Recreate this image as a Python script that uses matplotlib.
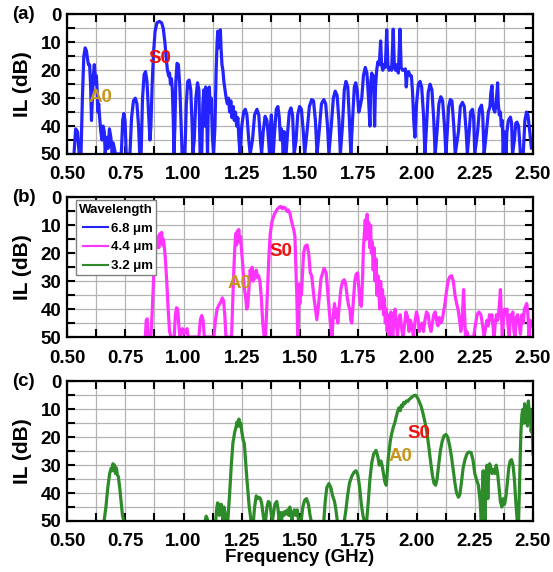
import matplotlib
matplotlib.use("Agg")
import matplotlib.pyplot as plt
from matplotlib.lines import Line2D
from matplotlib.ticker import MultipleLocator, FormatStrFormatter

plt.rcParams['font.family'] = ['Liberation Sans', 'DejaVu Sans']
plt.rcParams['font.weight'] = 'bold'
plt.rcParams['axes.labelweight'] = 'bold'

## Panel (a): wavelength 6.8 um
xa = [0.530, 0.537, 0.545, 0.552, 0.560, 0.566, 0.572, 0.578, 0.583, 0.588, 0.592, 0.597, 0.601, 0.605,
      0.609, 0.613, 0.617, 0.620, 0.623, 0.626, 0.629, 0.632, 0.636, 0.640, 0.645, 0.650, 0.655, 0.660,
      0.664, 0.670, 0.676, 0.682, 0.688, 0.694, 0.698, 0.703, 0.708, 0.714,
      0.733, 0.739, 0.744, 0.749, 0.754,
      0.770, 0.777, 0.785, 0.793, 0.800, 0.807, 0.812,
      0.818, 0.824, 0.831, 0.837, 0.843, 0.850, 0.856, 0.860, 0.865, 0.871, 0.878, 0.886, 0.896, 0.906,
      0.913, 0.920, 0.926, 0.931, 0.936, 0.940, 0.944, 0.948, 0.952, 0.956, 0.959,
      0.963, 0.967, 0.972, 0.978, 0.984, 0.990, 0.994,
      1.006, 1.012, 1.018, 1.024, 1.031, 1.037, 1.040,
      1.046, 1.053, 1.060, 1.066, 1.071,
      1.078, 1.083, 1.087, 1.091, 1.095, 1.099, 1.103, 1.107, 1.111, 1.115, 1.119, 1.124, 1.129,
      1.135, 1.140, 1.144, 1.147, 1.150, 1.154, 1.158, 1.161, 1.165, 1.169, 1.173, 1.178, 1.183, 1.188,
      1.193, 1.198, 1.203, 1.208, 1.213, 1.218, 1.223, 1.228, 1.233, 1.238, 1.243,
      1.250, 1.258, 1.265, 1.272, 1.280, 1.286,
      1.296, 1.305, 1.315, 1.323, 1.330, 1.335,
      1.342, 1.350, 1.358, 1.365, 1.369, 1.373, 1.377, 1.381, 1.385, 1.391, 1.398, 1.405, 1.411, 1.416,
      1.420, 1.424, 1.428, 1.432, 1.436, 1.440,
      1.447, 1.454, 1.461, 1.468, 1.475,
      1.483, 1.490, 1.498, 1.506, 1.514, 1.520,
      1.530, 1.540, 1.550, 1.558, 1.566, 1.573,
      1.582, 1.592, 1.602, 1.610, 1.618, 1.624,
      1.634, 1.643, 1.651, 1.659, 1.667, 1.673,
      1.682, 1.690, 1.697, 1.705, 1.712, 1.718,
      1.724, 1.733, 1.739, 1.745, 1.752, 1.758,
      1.765, 1.772, 1.780, 1.787, 1.794, 1.800, 1.804, 1.808, 1.812, 1.816, 1.820, 1.824, 1.829, 1.834,
      1.840, 1.846, 1.850, 1.855, 1.860, 1.866, 1.872, 1.877, 1.882, 1.887, 1.893, 1.900, 1.905, 1.910,
      1.916, 1.922, 1.929, 1.934, 1.940, 1.946, 1.952, 1.956, 1.960, 1.966, 1.972, 1.978, 1.983, 1.988,
      1.993, 2.000, 2.008, 2.015, 2.022, 2.030, 2.036,
      2.043, 2.050, 2.058, 2.066, 2.074, 2.080,
      2.088, 2.096, 2.104, 2.112, 2.120, 2.126,
      2.132, 2.138, 2.145, 2.152, 2.160, 2.166,
      2.180, 2.188, 2.197, 2.205, 2.213, 2.218,
      2.226, 2.232, 2.240, 2.245, 2.250,
      2.262, 2.270, 2.279, 2.284, 2.290,
      2.300, 2.308, 2.315, 2.319, 2.324, 2.327, 2.331, 2.336, 2.340, 2.345, 2.348, 2.351, 2.355, 2.360,
      2.364, 2.368, 2.372, 2.376, 2.380, 2.384, 2.388, 2.394, 2.403, 2.408, 2.412,
      2.420, 2.426, 2.431, 2.438, 2.446,
      2.458, 2.465, 2.472, 2.478, 2.486, 2.493, 2.500]
ya = [50, 41, 42, 50, 50, 30, 15, 12, 13, 16, 18, 18, 25, 38,
      30, 22, 18, 21, 25, 22, 27, 35, 32, 37, 42, 45, 40, 42,
      50, 44, 48, 41, 44, 50, 46, 48, 50, 50,
      50, 38, 35.5, 38, 50,
      50, 37, 31, 30, 32, 40, 50,
      50, 30, 21.5, 20.5, 24, 35, 45, 40, 26, 14, 6, 3, 2.5, 3,
      5, 10, 16, 20, 22, 21, 25, 23, 27, 38, 50,
      40, 24, 17.5, 18, 26, 40, 50,
      50, 32, 24, 23.5, 27, 40, 50,
      45, 30, 24.5, 27, 50,
      50, 32, 27, 40, 26, 34, 50, 30, 26, 35, 30, 44, 50,
      40, 20, 10, 6, 12, 9, 5.5, 12, 18, 20, 24, 27, 30, 32,
      30, 35, 31, 37, 33, 38, 35, 40, 37, 45, 50,
      40, 35, 34, 36, 45, 50,
      45, 36, 34, 36, 45, 50,
      42, 36.5, 38, 45, 50, 40, 36, 42, 50, 42, 34, 33, 37, 45,
      41, 44, 50, 42, 46, 50,
      42, 35, 33.5, 36, 50,
      45, 36, 33, 34, 42, 50,
      42, 33, 30.5, 31, 38, 50,
      42, 32, 30.5, 32, 40, 50,
      40, 30, 27.5, 29, 38, 50,
      40, 27, 24, 26, 38, 50,
      40, 26, 24.5, 27, 35, 33,
      30, 22, 19, 21, 30, 40, 24, 21, 27, 22, 40, 26, 20, 17,
      18, 9.5, 18, 20, 18, 19, 5.5, 18, 20, 19, 20, 5.3, 19, 20,
      18, 21, 5.3, 19, 20, 20, 19.5, 26, 21, 20.5, 22, 22, 28, 38,
      44, 32, 25, 24, 26, 36, 50,
      40, 28, 25, 27, 38, 50,
      42, 32, 29.5, 31, 40, 50,
      42, 33, 30.5, 31, 40, 50,
      42, 33, 31.5, 33, 42, 50,
      42, 35, 34, 37, 50,
      42, 34, 32.5, 36, 50,
      42, 35, 33, 28, 25.5, 32, 34, 35, 33, 28, 24.5, 32, 36, 35,
      40, 38, 50, 42, 45, 50, 42, 38, 36.8, 39, 50,
      45, 39, 38.6, 40, 50,
      50, 38, 35, 36, 42, 48, 45]

## Panel (b): wavelength 4.4 um
xb = [0.836, 0.840, 0.844, 0.848, 0.860, 0.866, 0.872, 0.878, 0.884, 0.890, 0.894, 0.898, 0.902, 0.906,
      0.910, 0.914, 0.918, 0.922, 0.928, 0.934, 0.940, 0.946,
      0.960, 0.965, 0.970, 0.975, 0.980, 0.984,
      0.990, 0.995, 1.000, 1.005, 1.010, 1.015, 1.020,
      1.066, 1.072, 1.078, 1.084, 1.089,
      1.130, 1.137, 1.144, 1.152, 1.160, 1.166, 1.172, 1.177, 1.182,
      1.206, 1.210, 1.215, 1.220, 1.224, 1.228, 1.231, 1.234, 1.237, 1.241, 1.245, 1.249, 1.254, 1.260,
      1.266, 1.271, 1.276, 1.281, 1.286, 1.290, 1.294, 1.298, 1.302, 1.307, 1.312, 1.317, 1.322, 1.328,
      1.334, 1.340, 1.346, 1.352, 1.357, 1.362, 1.367, 1.372, 1.380, 1.390, 1.400, 1.410, 1.418, 1.424,
      1.430, 1.437, 1.444, 1.450, 1.456, 1.462, 1.468, 1.474, 1.478, 1.482, 1.486, 1.490, 1.493, 1.496,
      1.499, 1.502, 1.506, 1.510, 1.515, 1.522, 1.530, 1.537, 1.544, 1.550, 1.560, 1.572,
      1.580, 1.590, 1.603, 1.612, 1.620, 1.629, 1.637,
      1.643, 1.648, 1.652, 1.657, 1.662, 1.667, 1.675, 1.683, 1.690, 1.696, 1.703, 1.709, 1.714, 1.718,
      1.722, 1.728, 1.735, 1.741, 1.747, 1.752, 1.758, 1.763,
      1.768, 1.772, 1.776, 1.780, 1.784, 1.788, 1.791, 1.795, 1.799, 1.803, 1.806, 1.810, 1.814, 1.818,
      1.822, 1.826, 1.830, 1.834, 1.838, 1.842, 1.846, 1.850, 1.854, 1.858, 1.862, 1.866, 1.870, 1.874,
      1.878, 1.882, 1.886, 1.890, 1.894, 1.898, 1.902, 1.908, 1.914, 1.918, 1.924, 1.930, 1.936, 1.942,
      1.948, 1.955, 1.962, 1.968, 1.974, 1.980, 1.987, 1.994, 2.000, 2.006, 2.012, 2.018, 2.024, 2.030,
      2.036, 2.043, 2.050, 2.056, 2.062, 2.068, 2.074, 2.080, 2.086, 2.092, 2.098, 2.104, 2.110, 2.116,
      2.122, 2.128, 2.135, 2.142, 2.150, 2.158, 2.165, 2.172, 2.178, 2.185, 2.190, 2.194, 2.198, 2.202,
      2.206, 2.210, 2.216, 2.222, 2.232,
      2.245, 2.252, 2.260, 2.268, 2.276, 2.284, 2.290, 2.296, 2.302, 2.308, 2.313, 2.318, 2.323, 2.328,
      2.333, 2.338, 2.343, 2.348, 2.352, 2.356, 2.360, 2.364, 2.368, 2.373, 2.378, 2.383, 2.388, 2.393,
      2.398, 2.403, 2.408, 2.413, 2.418, 2.423, 2.428, 2.434, 2.440, 2.446, 2.452, 2.458, 2.463, 2.468,
      2.473, 2.478, 2.483, 2.488, 2.494, 2.500]
yb = [50, 44, 43.5, 50, 50, 40, 28, 20, 17, 14, 18, 13, 16, 12.5,
      17, 15, 18, 22, 30, 40, 48, 50,
      50, 42, 39.5, 40, 46, 50,
      48, 47, 49, 47.5, 48.5, 47, 50,
      50, 44, 42.3, 44, 50,
      50, 44, 40, 38.5, 37.5, 36, 37, 42, 50,
      50, 40, 28, 18, 13, 17, 12, 15, 11.5, 16, 14, 19, 24, 32,
      35, 40, 38.5, 32, 26, 28, 25, 30, 27, 29, 26, 28.5, 28, 30,
      36, 45, 50, 50, 40, 30, 20, 13, 8.5, 6, 4.5, 3.5, 3.2, 4,
      3.5, 3.8, 5, 4.5, 5.5, 8, 10, 12, 14, 25, 35, 50, 45, 31,
      38, 32, 35, 28, 20, 17.5, 17, 20, 27, 28, 36, 43.8,
      38, 29, 25.4, 27, 35, 44, 50,
      42, 38, 43, 40, 45, 40, 33, 30, 29.5, 31, 36, 39, 40, 44,
      45, 38, 30, 27.5, 27, 32, 38, 39,
      30, 18, 13, 8, 15, 6, 12, 9, 18, 10, 20, 16, 26, 18,
      30, 22, 35, 28, 33, 40, 30, 38, 33, 42, 36, 45, 40, 48,
      42, 50, 44, 41, 46, 50, 45, 40, 45, 50, 44, 42, 47, 50,
      46, 41, 43, 48, 44, 46, 50, 44, 41, 43, 48, 46, 45, 48,
      44, 41, 42, 46, 48, 45, 42, 41, 44, 46, 43, 45, 44, 41,
      38, 34, 30, 28.5, 28, 30, 35, 38, 40, 44, 48, 46, 40, 33,
      42, 50, 48, 50, 50,
      50, 46, 42, 41, 42, 46, 50, 47, 44, 46, 42, 44, 42, 46,
      50, 45, 42, 44, 42, 38, 33, 42, 50, 44, 40, 42, 40, 46,
      50, 42, 44, 41, 48, 50, 43, 42, 45, 49, 42, 45, 40, 39,
      38, 42, 50, 44, 46, 45]

## Panel (c): wavelength 3.2 um (None marks a gap in the trace)
xc = [0.659, 0.667, 0.675, 0.683, 0.690, 0.694, 0.697, 0.700, 0.704, 0.708, 0.712, 0.716, 0.720, 0.726,
      0.732, 0.738, 0.744, None,
      1.093, 1.097, 1.101, 1.104, None,
      1.138, 1.142, 1.146, 1.150, 1.154, 1.158, 1.162, 1.166, 1.170, 1.174, 1.178, 1.182,
      1.190, 1.198, 1.205, 1.212, 1.220, 1.225, 1.230, 1.234, 1.238, 1.242, 1.246, 1.250, 1.256, 1.261,
      1.272, 1.282, 1.290,
      1.300, 1.305, 1.312, 1.318, 1.324, 1.330, 1.336, 1.342, 1.346,
      1.352, 1.358, 1.364, 1.370, 1.376, 1.381,
      1.385, 1.392, 1.400, 1.406, 1.410, 1.416, 1.420, 1.426, 1.431, 1.436, 1.441, 1.447, 1.452, 1.456,
      1.460, 1.466, 1.470, 1.476, 1.482, 1.488, 1.494,
      1.505, 1.512, 1.520, 1.528, 1.536, 1.543, 1.548, None,
      1.602, 1.608, 1.615, 1.624, 1.632, 1.640, 1.648, 1.654, 1.660, None,
      1.690, 1.697, 1.704, 1.712, 1.722, 1.732, 1.740, 1.748, 1.756, 1.763, 1.770, 1.776,
      1.786, 1.792, 1.800, 1.808, 1.816, 1.826, 1.834, 1.840, 1.847, 1.852, 1.858, 1.864, 1.870, 1.874,
      1.878, 1.882, 1.888, 1.894, 1.900, 1.906, 1.912, 1.918, 1.924, 1.930, 1.935, 1.940, 1.945, 1.950,
      1.956, 1.962, 1.968, 1.975, 1.982, 1.990, 1.997, 2.005, 2.013, 2.020, 2.028, 2.036, 2.044, 2.052,
      2.060, 2.068, 2.075, 2.082, 2.088, 2.095, 2.102, 2.110, 2.118, 2.126, 2.134, 2.142, 2.150, 2.158,
      2.165, 2.172, 2.180, 2.186, 2.193, 2.200, 2.208, 2.216, 2.224, 2.234, 2.242, 2.250, 2.258, 2.265,
      2.272, 2.278, 2.282, 2.286, 2.290, 2.294, 2.298, 2.302, 2.306, 2.310, 2.314, 2.319, 2.324, 2.330,
      2.336, 2.342, 2.348, 2.354, 2.360, 2.366, 2.372, 2.378, 2.384, 2.390, 2.396, 2.402, 2.408, 2.414,
      2.420, 2.426, 2.432, 2.438, 2.444, 2.448, 2.452, 2.456, 2.460, 2.464, 2.468, 2.472, 2.476, 2.480,
      2.484, 2.488, 2.492, 2.496, 2.500]
yc = [50, 45, 38, 33, 31, 32, 29.5, 32, 30, 33, 31, 33.5, 34, 38,
      43, 48, 50, None,
      50, 48.3, 49, 50, None,
      50, 46, 43.5, 44, 48, 46, 44, 47, 50, 45, 47, 50,
      50, 40, 30, 22, 18, 16.5, 14.5, 16, 13.5, 16, 15, 18, 21, 22.3,
      35, 45, 50,
      50, 45, 41, 42, 41.5, 42, 44, 48, 50,
      50, 45, 43, 43.5, 47, 50,
      48, 44, 43, 46, 50, 47, 50, 47, 48, 46.5, 47.5, 46, 48, 45,
      47, 50, 47, 46, 48, 46, 50,
      50, 45, 42.5, 42, 44, 48, 50, None,
      50, 43, 38, 36.6, 38, 41, 43, 46, 50, None,
      50, 46, 41, 36.5, 34, 32.5, 32, 33.5, 38, 44, 48, 50,
      50, 44, 35, 29, 26, 24.7, 27, 30, 28.5, 30, 33, 36, 37.2, 33,
      28, 25, 21, 18.5, 16.5, 15, 13, 11, 9.5, 10.5, 8.5, 9, 7.5, 8,
      7, 7.2, 6.5, 6, 5.5, 5, 5, 6, 7.5, 9, 11.5, 14.5, 18, 23,
      28.5, 33.5, 36.5, 37.2, 35, 30, 25, 21.5, 19.5, 19, 20, 23, 27, 32,
      36.5, 40, 41.5, 40.5, 36, 31, 28, 26, 25.3, 25.5, 28, 33, 35.4, 37,
      42, 50, 40, 32, 42, 50, 33, 30, 42, 32, 29.5, 31, 33, 31.5,
      33, 30, 33, 38, 43, 45, 42, 44, 41, 36, 31, 28.5, 28, 30,
      35, 43, 50, 50, 30, 18, 12, 10, 15, 8, 12, 9, 16, 7,
      12, 10, 18, 14, 26]

labels = ["6.8 \u03bcm", "4.4 \u03bcm", "3.2 \u03bcm"]
colors = ["#2323ff", "#ff33ff", "#2e8b2a"]

fig = plt.figure(figsize=(5.53, 5.72), dpi=100)
left, width, height = 0.1212, 0.8427, 0.2440
bottoms = [0.7308, 0.4108, 0.0892]
tags = ["(a)", "(b)", "(c)"]

axes = []
for i in range(3):
    ax = fig.add_axes([left, bottoms[i], width, height])
    ax.set_xlim(0.5, 2.5)
    ax.set_ylim(50, 0)
    ax.xaxis.set_major_locator(MultipleLocator(0.25))
    ax.xaxis.set_minor_locator(MultipleLocator(0.125))
    ax.xaxis.set_major_formatter(FormatStrFormatter("%.2f"))
    ax.yaxis.set_major_locator(MultipleLocator(10))
    ax.yaxis.set_minor_locator(MultipleLocator(5))
    ax.grid(True, which="both", color="#b4b4b4", lw=0.9)
    ax.set_axisbelow(True)
    ax.tick_params(which="both", direction="in", top=True, right=True,
                   length=6, width=1.5, labelsize=13.5)
    ax.tick_params(axis="x", pad=9)
    ax.tick_params(axis="y", pad=4)
    for s in ax.spines.values():
        s.set_linewidth(1.6)
    ax.set_ylabel("IL (dB)", fontsize=15)
    ax.yaxis.set_label_coords(-0.076, 0.5)
    fig.text(12 / 553, bottoms[i] + height, tags[i], fontsize=13.5,
             fontweight="bold", ha="left", va="center")
    axes.append(ax)

axes[0].plot(xa, ya, color=colors[0], lw=2.3)
axes[1].plot(xb, yb, color=colors[1], lw=2.3)
axes[2].plot([float("nan") if v is None else v for v in xc],
             [float("nan") if v is None else v for v in yc], color=colors[2], lw=2.3)

s0_color = "#ee1111"
a0_color = "#c8961e"
axes[0].text(0.899, 15.8, "S0", color=s0_color, fontsize=13.5, fontweight="bold", ha="center", va="center")
axes[0].text(0.642, 29.8, "A0", color=a0_color, fontsize=13.5, fontweight="bold", ha="center", va="center")
axes[1].text(1.418, 19.3, "S0", color=s0_color, fontsize=13.5, fontweight="bold", ha="center", va="center")
axes[1].text(1.238, 30.9, "A0", color=a0_color, fontsize=13.5, fontweight="bold", ha="center", va="center")
axes[2].text(2.009, 18.8, "S0", color=s0_color, fontsize=13.5, fontweight="bold", ha="center", va="center")
axes[2].text(1.933, 27.0, "A0", color=a0_color, fontsize=13.5, fontweight="bold", ha="center", va="center")

handles = [Line2D([], [], color=c, lw=1.5) for c in colors]
leg = axes[1].legend(handles, labels, title="Wavelength", loc="upper left",
                     bbox_to_anchor=(0.019, 0.979), borderaxespad=0,
                     fontsize=9.5, title_fontproperties={"weight": "bold", "size": 9.5},
                     fancybox=False, edgecolor="#808080", framealpha=1,
                     handlelength=1.9, handletextpad=0.2, labelspacing=0.5,
                     borderpad=0.25)
leg.get_frame().set_linewidth(1.0)
leg._legend_box.align = "right"

axes[2].set_xlabel("Frequency (GHz)", fontsize=13.5, labelpad=-1)

fig.savefig("out.png", dpi=100)
